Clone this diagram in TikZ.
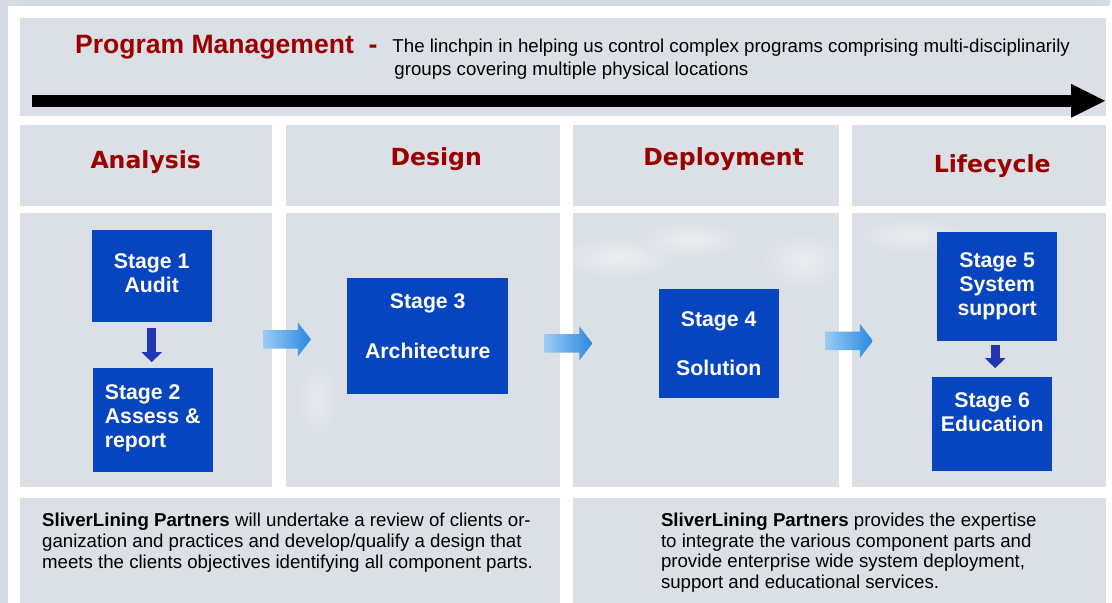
\documentclass[tikz,border=0pt]{standalone}
\usepackage{fontspec}
\setmainfont{Liberation Sans}
\newfontfamily\phasefont{DejaVu Sans}
\usetikzlibrary{shapes,arrows,positioning,calc,arrows.meta}

\definecolor{skygrey}{HTML}{D3DCE4}
\definecolor{panelgrey}{HTML}{DAE0E6}
\definecolor{titlered}{HTML}{9A0000}
\definecolor{stageblue}{HTML}{0745C0}
\definecolor{stepblue}{HTML}{2236B2}
\definecolor{flowlight}{HTML}{9ACCF4}
\definecolor{flowdark}{HTML}{2A88E0}

\begin{document}
\begin{tikzpicture}[x=1pt,y=-1pt,
    phase/.style={anchor=base,inner sep=0pt,text=titlered,font=\phasefont\bfseries\fontsize{23.6}{28}\selectfont},
    stagebox/.style={fill=stageblue,text=white,inner sep=0pt,align=center,font=\bfseries\fontsize{21.3}{24}\selectfont},
    flow/.style={single arrow,left color=flowlight,right color=flowdark,minimum height=48pt,minimum width=34pt,single arrow head extend=8pt,single arrow tip angle=105,inner xsep=0pt,inner ysep=9pt},
    stepdown/.style={draw=stepblue,line width=9pt,-{Triangle[length=10pt,width=20pt]}},
    blurb/.style={anchor=north west,inner sep=0pt,align=left,font=\fontsize{18.7}{21}\selectfont}]

    % backdrop and panels
    \fill[skygrey] (0,0) rectangle (1112,604);
    \fill[white] (8,6) rectangle (1112,604);
    \fill[panelgrey] (20,18) rectangle (1108,116);
    \foreach \xa/\xb in {20/272,287/561,574/840,854/1108} {
        \fill[panelgrey] (\xa,125) rectangle (\xb,206);
        \fill[panelgrey] (\xa,213) rectangle (\xb,488);
    }
    \fill[panelgrey] (20,499) rectangle (561,604);
    \fill[panelgrey] (574,499) rectangle (1108,604);

    % clouds
    \begin{scope}
        \clip (287,213) rectangle (561,488) (574,213) rectangle (840,488) (854,213) rectangle (1108,488);
        \shade[inner color=white,outer color=panelgrey,opacity=.45] (620,258) ellipse (60 and 22);
        \shade[inner color=white,outer color=panelgrey,opacity=.45] (690,240) ellipse (55 and 18);
        \shade[inner color=white,outer color=panelgrey,opacity=.4] (805,262) ellipse (45 and 30);
        \shade[inner color=white,outer color=panelgrey,opacity=.4] (915,236) ellipse (60 and 18);
        \shade[inner color=white,outer color=panelgrey,opacity=.35] (318,400) ellipse (22 and 40);
    \end{scope}

    % program management bar
    \node[anchor=base west,inner sep=0pt,text=titlered,font=\bfseries\fontsize{26.6}{30}\selectfont] (pm) at (75,54) {Program Management};
    \node[anchor=base west,inner sep=0pt,text=titlered,font=\bfseries\fontsize{26.6}{30}\selectfont] (pmdash) at (369,54) {-};
    \node[anchor=north west,inner sep=0pt,align=left,font=\fontsize{18.7}{23}\selectfont] (pmtext) at (393,38.4)
        {The linchpin in helping us control complex programs comprising multi-disciplinarily\\
        \hspace*{2pt}groups covering multiple physical locations};
    \coordinate (pmstart) at (32,101);
    \coordinate (pmend) at (1108,101);
    \draw[line width=12pt,-{Triangle[length=35pt,width=31pt]}] (pmstart) -- (pmend);

    % phases
    \node[phase] (analysis) at (146,168.5) {Analysis};
    \node[phase] (design) at (437,165.5) {Design};
    \node[phase] (deploy) at (725,165.5) {Deployment};
    \node[phase] (life) at (994,172.5) {Lifecycle};

    % stages
    \node[stagebox,minimum width=120pt,minimum height=93pt] (s1) at (152,276.5) {Stage 1\\Audit\\[-18pt]\mbox{}};
    \node[stagebox,minimum width=120pt,minimum height=104pt,align=left] (s2) at (153,421) {Stage 2\\Assess \&\\report\\[-16pt]\mbox{}};
    \node[stagebox,minimum width=161pt,minimum height=117pt] (s3) at (428.5,336.5) {Stage 3\\[26pt]Architecture\\[-4pt]\mbox{}};
    \node[stagebox,minimum width=120pt,minimum height=109pt] (s4) at (720,344.5) {Stage 4\\[25pt]Solution};
    \node[stagebox,minimum width=120pt,minimum height=110pt] (s5) at (999,287) {Stage 5\\System\\support};
    \node[stagebox,minimum width=120pt,minimum height=94pt] (s6) at (994,425) {Stage 6\\Education\\\mbox{}};

    \draw[stepdown,shorten <=5pt,shorten >=6pt] (s1.south) -- (s2.north -| s1.south);
    \draw[stepdown,shorten <=3pt,shorten >=9pt] ([xshift=-2pt]s5.south) -- ([xshift=-2pt]s5.south |- s6.north);

    % flow between phases
    \node[flow] (f1) at (284,340) {};
    \node[flow] (f2) at (566,344) {};
    \node[flow] (f3) at (847,341.5) {};

    % blurbs
    \node[blurb] (leftblurb) at (42,513.9) {\textbf{SliverLining Partners} will undertake a review of clients or-\\
        ganization and practices and develop/qualify a design that\\
        meets the clients objectives identifying all component parts.};
    \node[blurb,font=\fontsize{18.7}{20.8}\selectfont] (rightblurb) at (662,513.6) {\textbf{SliverLining Partners} provides the expertise\\
        to integrate the various component parts and\\
        provide enterprise wide system deployment,\\
        support and educational services.};
\end{tikzpicture}
\end{document}
